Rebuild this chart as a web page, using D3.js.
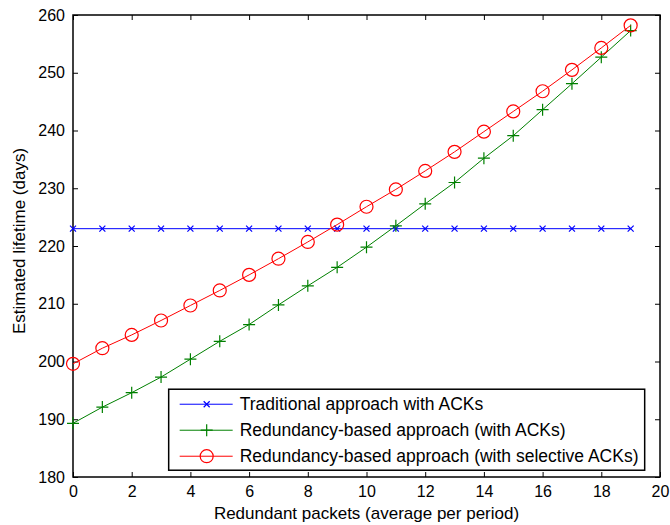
<!DOCTYPE html>
<html>
<head>
<meta charset="utf-8">
<script src="https://cdn.jsdelivr.net/npm/d3@7"></script>
<style>
  body { margin: 0; background: #fff; }
  text { font-family: "Liberation Sans", Arial, sans-serif; }
</style>
</head>
<body>
<div id="chart"></div>
<script>
// Data
const packets = d3.range(0, 20);
const traditional = [223, 223, 223, 223, 223, 223, 223, 223, 223, 223, 223, 223, 223, 223, 223, 223, 223, 223, 223, 223];
const redundancyAcks = [189.3, 192.1, 194.6, 197.3, 200.4, 203.5, 206.4, 209.8, 213.1, 216.3, 219.8, 223.5, 227.3, 231.0, 235.2, 239.1, 243.6, 248.1, 252.7, 257.3];
const redundancySelective = [199.6, 202.3, 204.6, 207.1, 209.7, 212.3, 215.0, 217.8, 220.7, 223.7, 226.8, 229.8, 233.0, 236.3, 239.8, 243.3, 246.8, 250.5, 254.3, 258.2];
const seriesNames = ['Traditional approach with ACKs', 'Redundancy-based approach (with ACKs)', 'Redundancy-based approach (with selective ACKs)'];
const xTicks = d3.range(0, 21, 2);
const yTicks = d3.range(180, 261, 10);

const W = 670, H = 525;
const margin = { top: 15, right: 10, bottom: 48, left: 73 };
const width = W - margin.left - margin.right;
const height = H - margin.top - margin.bottom;

const svg = d3.select('#chart').append('svg')
    .attr('width', W)
    .attr('height', H);

const g = svg.append('g')
    .attr('transform', `translate(${margin.left},${margin.top})`);

const x = d3.scaleLinear().domain([0, 20]).range([0, width]);
const y = d3.scaleLinear().domain([180, 260]).range([height, 0]);

// Axes with inward ticks on all four sides (box style)
const styleAxis = sel => {
    sel.select('.domain').remove();
    sel.selectAll('line').attr('stroke', '#000');
    sel.selectAll('text').style('font-size', '16px').attr('fill', '#000');
};

g.append('g')
    .attr('transform', `translate(0,${height})`)
    .call(d3.axisBottom(x).tickValues(xTicks).tickSizeInner(-5).tickSizeOuter(0).tickPadding(9))
    .call(styleAxis);
g.append('g')
    .call(d3.axisTop(x).tickValues(xTicks).tickSizeInner(-5).tickSizeOuter(0).tickFormat(''))
    .call(styleAxis);
g.append('g')
    .call(d3.axisLeft(y).tickValues(yTicks).tickSizeInner(-5).tickSizeOuter(0).tickPadding(8))
    .call(styleAxis);
g.append('g')
    .attr('transform', `translate(${width},0)`)
    .call(d3.axisRight(y).tickValues(yTicks).tickSizeInner(-5).tickSizeOuter(0).tickFormat(''))
    .call(styleAxis);

g.append('rect')
    .attr('width', width)
    .attr('height', height)
    .attr('fill', 'none')
    .attr('stroke', '#000')
    .attr('stroke-width', 1.5);

// Marker drawers
const markers = {
    x: (sel, color) => sel.append('path')
        .attr('d', 'M-3,-3L3,3M-3,3L3,-3')
        .attr('stroke', color).attr('stroke-width', 1.2).attr('fill', 'none'),
    plus: (sel, color) => sel.append('path')
        .attr('d', 'M-6,0L6,0M0,-6L0,6')
        .attr('stroke', color).attr('stroke-width', 1.2).attr('fill', 'none'),
    circle: (sel, color) => sel.append('circle')
        .attr('r', 6.5)
        .attr('stroke', color).attr('stroke-width', 1.2).attr('fill', 'none')
};

const series = [
    { name: seriesNames[0], values: traditional, color: '#0000ff', marker: 'x' },
    { name: seriesNames[1], values: redundancyAcks, color: '#008000', marker: 'plus' },
    { name: seriesNames[2], values: redundancySelective, color: '#ff0000', marker: 'circle' }
];

const line = d3.line()
    .x((d, i) => x(packets[i]))
    .y(d => y(d));

series.forEach(s => {
    g.append('path')
        .datum(s.values)
        .attr('d', line)
        .attr('fill', 'none')
        .attr('stroke', s.color)
        .attr('stroke-width', 1);

    g.selectAll(null)
        .data(s.values)
        .enter()
        .append('g')
        .attr('transform', (d, i) => `translate(${x(packets[i])},${y(d)})`)
        .each(function () { markers[s.marker](d3.select(this), s.color); });
});

// Legend
const legend = g.append('g')
    .attr('transform', `translate(${x(3.26)},${y(195.2)})`);

legend.append('rect')
    .attr('width', 476)
    .attr('height', 81)
    .attr('fill', '#fff')
    .attr('stroke', '#000')
    .attr('stroke-width', 1.5);

series.forEach((s, i) => {
    const row = legend.append('g')
        .attr('transform', `translate(0,${15 + i * 26})`);
    row.append('line')
        .attr('x1', 11).attr('x2', 64)
        .attr('stroke', s.color).attr('stroke-width', 1);
    markers[s.marker](row.append('g').attr('transform', 'translate(38,0)'), s.color);
    row.append('text')
        .attr('x', 71)
        .attr('dy', '0.35em')
        .style('font-size', '17.5px')
        .text(s.name);
});

// Axis labels
svg.append('text')
    .attr('x', margin.left + width / 2)
    .attr('y', 519)
    .attr('text-anchor', 'middle')
    .style('font-size', '17px')
    .text('Redundant packets (average per period)');

svg.append('text')
    .attr('transform', `translate(25,${margin.top + height / 2 - 5}) rotate(-90)`)
    .attr('text-anchor', 'middle')
    .style('font-size', '17px')
    .text('Estimated lifetime (days)');
</script>
</body>
</html>
